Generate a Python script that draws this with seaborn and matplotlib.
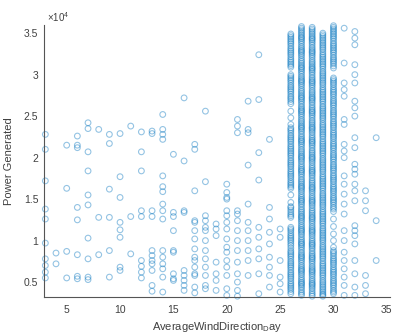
import numpy as np
import pandas as pd
import matplotlib
matplotlib.use("Agg")
import matplotlib.pyplot as plt
import seaborn as sns

# ---- sparse points: y values (Power Generated) per wind-direction value ----
p03 = [22800, 21000, 17200, 13800, 12600, 9700, 7800, 7000, 6200, 5500]
p04 = [8500, 7200]
p05 = [21500, 16300, 8700, 5500]
p06 = [22600, 21500, 21200, 14000, 12500, 8300, 5700, 5400]
p07 = [24200, 23500, 20700, 18400, 15500, 14300, 10300, 7800, 5600, 5300]
p08 = [23400, 12800, 8300]
p09 = [22800, 21700, 16200, 12800, 8800, 5600]
p10 = [22900, 17700, 15200, 12200, 11300, 10400, 6800, 6400]
p11 = [23800, 12900, 8400]
p12 = [23100, 20700, 18400, 13600, 12900, 7600, 6900, 6200, 5500]
p13 = [23200, 22900, 13600, 12900, 8800, 8200, 7600, 7200, 6400, 4600, 3900]
p14 = [25200, 23400, 22800, 22200, 17800, 16500, 15900, 14400, 13600, 12600,
       8800, 8000, 7200, 6600, 5600, 3800]
p15 = [20400, 13400, 12900, 11200, 8800, 8600, 6000, 5400, 5200]
p16 = [27200, 19600, 13600, 13400, 6400, 5800, 5200, 4600, 4000]
p17 = [21600, 21000, 16000, 12400, 12200, 11200, 10200, 9000, 8000, 7600,
       6800, 6000, 5800, 4400, 3700]
p18 = [25600, 17100, 13000, 12400, 11600, 11200, 10000, 8800, 7800, 6800,
       5800, 4600, 4200]
p19 = [12000, 11400, 10600, 7400, 6000, 5200, 4000]
p20 = [16800, 15800, 15200, 15000, 13600, 13000, 12200, 11400, 10200, 9200,
       8600, 7600, 6800, 5800, 4200, 3400]
p21 = [24600, 23800, 23000, 13600, 13200, 12400, 11200, 10000, 8800, 7400,
       6000, 5000, 4000, 3300]
p22 = [26800, 23400, 23000, 19100, 14400, 12200, 11200, 10000, 8800, 7600,
       5800]
p23 = [32400, 27000, 20600, 17300, 11600, 10400, 9000, 7800, 6000, 3600]
p24 = [22200, 14000, 12600, 11000, 9600, 8000, 6800, 5800, 4400]
p25 = [11400, 10400, 7600, 5600, 4800, 3800]
p31 = [35600, 31400, 29000, 28200, 27400, 24600, 24000, 21600, 20800, 20000,
       17800, 16800, 15600, 14400, 13200, 11200, 10000, 8600, 7600, 6600,
       5600, 4600, 3400]
p32 = [35200, 34400, 33600, 31200, 30000, 29000, 26800, 26000, 25000, 22400,
       21200, 19200, 18600, 18000, 16800, 16000, 14800, 11800, 11200, 10600,
       9600, 7600, 6000, 4400, 3400]
p33 = [16000, 14800, 13600, 5800, 4600, 3600]
p34 = [22400, 12400, 7600]

# ---- dense columns (two passes of readings per column) ----
p26 = [34900, 34500, 34100, 33700, 33200, 32800, 32400, 31900, 31500, 31100,
       30900, 30000, 29600, 29200, 28700, 28300, 27900, 27400, 27000, 26500,
       25600, 24800, 24000, 23600, 23200, 22700, 22300, 21900, 21400, 21000,
       20600, 20200, 19700, 19300, 18900, 18400, 18000, 17600, 17100, 16700,
       16300, 15500, 14600, 14100, 13700, 13200, 12800, 11600, 11200, 10700,
       10300, 9900, 9400, 8800, 8400, 8000, 7500, 7100, 6700, 6200, 5800,
       5400, 4900, 4500, 4100, 3600]
p26b = [34700, 34300, 33900, 33450, 33000, 32600, 32150, 31700, 31300, 29800,
        29400, 28950, 28500, 28100, 27650, 27200, 26750, 23400, 22950, 22500,
        22100, 21650, 21200, 20800, 20400, 19950, 19500, 19100, 18650, 18200,
        17800, 17350, 16900, 16500, 13950, 13450, 13000, 11400, 10950, 10500,
        10100, 9650, 9100, 8600, 8200, 7750, 7300, 6900, 6450, 6000, 5600,
        5150, 4700, 4300, 3850]
p27 = [35800, 35400, 35000, 34600, 34300, 33900, 33400, 33000, 32700, 32300,
       31800, 31400, 31000, 30700, 30300, 29800, 29400, 29100, 28700, 28200,
       27800, 27400, 27100, 26700, 26200, 25800, 25500, 25100, 24600, 24200,
       23800, 23500, 23100, 22600, 22200, 21900, 21500, 21000, 20600, 20200,
       19900, 19500, 19000, 18600, 18300, 17900, 17400, 17000, 16600, 16300,
       15900, 15400, 15000, 14700, 14300, 13800, 13400, 13000, 12700, 12300,
       11800, 11400, 11100, 10700, 10200, 9800, 9500, 9100, 8600, 8200, 7900,
       7500, 7000, 6600, 6300, 5900, 5400, 5000, 4700, 4300, 3800, 3400]
p27b = [35600, 35200, 34800, 34450, 34100, 33650, 33200, 32850, 32500, 32050,
        31600, 31200, 30850, 30500, 30050, 29600, 29250, 28900, 28450, 28000,
        27600, 27250, 26900, 26450, 26000, 25650, 25300, 24850, 24400, 24000,
        23650, 23300, 22850, 22400, 22050, 21700, 21250, 20800, 20400, 20050,
        19700, 19250, 18800, 18450, 18100, 17650, 17200, 16800, 16450, 16100,
        15650, 15200, 14850, 14500, 14050, 13600, 13200, 12850, 12500, 12050,
        11600, 11250, 10900, 10450, 10000, 9650, 9300, 8850, 8400, 8050, 7700,
        7250, 6800, 6450, 6100, 5650, 5200, 4850, 4500, 4050, 3600]
p28 = [35700, 35300, 34900, 34500, 34200, 33800, 33300, 32900, 32600, 32200,
       31700, 31300, 30900, 30600, 30200, 29700, 29300, 29000, 28600, 28100,
       27700, 27300, 27000, 26600, 26100, 25700, 25400, 25000, 24500, 24100,
       23700, 23400, 23000, 22500, 22100, 21800, 21400, 20900, 20500, 20100,
       19800, 19400, 18900, 18500, 18200, 17800, 17300, 16900, 16500, 16200,
       15800, 15300, 14900, 14600, 14200, 13700, 13300, 12900, 12600, 12200,
       11700, 11300, 11000, 10600, 10100, 9700, 9400, 9000, 8500, 8100, 7800,
       7400, 6900, 6500, 6200, 5800, 5300, 4900, 4600, 4200, 3700, 3300]
p28b = [35500, 35100, 34700, 34350, 34000, 33550, 33100, 32750, 32400, 31950,
        31500, 31100, 30750, 30400, 29950, 29500, 29150, 28800, 28350, 27900,
        27500, 27150, 26800, 26350, 25900, 25550, 25200, 24750, 24300, 23900,
        23550, 23200, 22750, 22300, 21950, 21600, 21150, 20700, 20300, 19950,
        19600, 19150, 18700, 18350, 18000, 17550, 17100, 16700, 16350, 16000,
        15550, 15100, 14750, 14400, 13950, 13500, 13100, 12750, 12400, 11950,
        11500, 11150, 10800, 10350, 9900, 9550, 9200, 8750, 8300, 7950, 7600,
        7150, 6700, 6350, 6000, 5550, 5100, 4750, 4400, 3950, 3500]
p29 = [35000, 34600, 34200, 33800, 33400, 33000, 32500, 32100, 31700, 31300,
       30900, 30400, 30000, 29600, 29200, 28800, 28300, 27900, 27500, 27100,
       26700, 26200, 25800, 25400, 25000, 24600, 24100, 23700, 23300, 22900,
       22500, 22000, 21600, 21200, 20800, 20400, 19900, 19500, 19100, 18700,
       18300, 17800, 17400, 17000, 16600, 16200, 15700, 15300, 14900, 14500,
       14100, 13600, 13200, 12800, 12400, 12000, 11500, 11100, 10700, 10300,
       9900, 9400, 9000, 8600, 8200, 7800, 7300, 6900, 6500, 6100, 5700, 5200,
       4800, 4400, 4000, 3600, 3300]
p29b = [34800, 34400, 34000, 33600, 33200, 32750, 32300, 31900, 31500, 31100,
        30650, 30200, 29800, 29400, 29000, 28550, 28100, 27700, 27300, 26900,
        26450, 26000, 25600, 25200, 24800, 24350, 23900, 23500, 23100, 22700,
        22250, 21800, 21400, 21000, 20600, 20150, 19700, 19300, 18900, 18500,
        18050, 17600, 17200, 16800, 16400, 15950, 15500, 15100, 14700, 14300,
        13850, 13400, 13000, 12600, 12200, 11750, 11300, 10900, 10500, 10100,
        9650, 9200, 8800, 8400, 8000, 7550, 7100, 6700, 6300, 5900, 5450, 5000,
        4600, 4200, 3800, 3450]
p30 = [35900, 35500, 35100, 34700, 34300, 33800, 33400, 33000, 32600, 32100,
       31700, 31300, 30800, 29600, 29200, 28800, 28300, 27900, 27500, 27000,
       26600, 26200, 25700, 25300, 24900, 24400, 24000, 23600, 23100, 22700,
       22300, 21800, 21400, 21000, 20500, 20100, 19700, 19200, 18800, 18400,
       17900, 17500, 17100, 16600, 16200, 15800, 15300, 14900, 14500, 14000,
       13500, 12600, 11700, 10800, 10000, 9200, 8800, 8400, 7900, 7500, 7100,
       6600, 6200, 5800, 5300, 4900, 4500, 4000, 3600]
p30b = [35700, 35300, 34900, 34500, 34050, 33600, 33200, 32800, 32350, 31900,
        31500, 31050, 29400, 29000, 28550, 28100, 27700, 27250, 26800, 26400,
        25950, 25500, 25100, 24650, 24200, 23800, 23350, 22900, 22500, 22050,
        21600, 21200, 20750, 20300, 19900, 19450, 19000, 18600, 18150, 17700,
        17300, 16850, 16400, 16000, 15550, 15100, 14700, 14250, 13800, 8600,
        8150, 7700, 7300, 6850, 6400, 6000, 5550, 5100, 4700, 4250, 3800]

groups = {3: p03, 4: p04, 5: p05, 6: p06, 7: p07, 8: p08, 9: p09, 10: p10,
          11: p11, 12: p12, 13: p13, 14: p14, 15: p15, 16: p16, 17: p17,
          18: p18, 19: p19, 20: p20, 21: p21, 22: p22, 23: p23, 24: p24,
          25: p25, 26: p26 + p26b, 27: p27 + p27b, 28: p28 + p28b,
          29: p29 + p29b, 30: p30 + p30b, 31: p31, 32: p32, 33: p33, 34: p34}

rows = [(xv, yv) for xv, ys in groups.items() for yv in ys]
df = pd.DataFrame(rows, columns=["AverageWindDirectionDay", "PowerGenerated"])

xticks = [5, 10, 15, 20, 25, 30, 35]
xticklabels = ["5", "10", "15", "20", "25", "30", "35"]
yticks = [5000, 10000, 15000, 20000, 25000, 30000, 35000]
yticklabels = ["0.5", "1", "1.5", "2", "2.5", "3", "3.5"]

sns.set_style("white")
plt.rcParams["font.family"] = ["Liberation Sans", "DejaVu Sans"]
plt.rcParams["mathtext.fontset"] = "custom"
plt.rcParams["mathtext.rm"] = "Liberation Sans"
plt.rcParams["mathtext.it"] = "Liberation Sans"

txt = "#404040"
fig = plt.figure(figsize=(3.96, 3.36), dpi=100)
ax = fig.add_axes([0.111, 0.116, 0.874, 0.81])

sns.scatterplot(data=df, x="AverageWindDirectionDay", y="PowerGenerated",
                ax=ax, marker="o", s=17, facecolor="none",
                edgecolor="#0072BD", linewidth=0.8, alpha=0.42,
                clip_on=False, legend=False)

ax.set_xlim(2.87, 35.3)
ax.set_ylim(3200, 36000)
ax.set_xticks(xticks)
ax.set_xticklabels(xticklabels)
ax.set_yticks(yticks)
ax.set_yticklabels(yticklabels)
ax.tick_params(direction="in", length=3, width=0.6, colors="#555555",
               labelcolor=txt, labelsize=7.5, pad=4)
ax.tick_params(axis="x", pad=6)
for side in ["top", "right"]:
    ax.spines[side].set_visible(False)
for side in ["left", "bottom"]:
    ax.spines[side].set_color("#555555")
    ax.spines[side].set_linewidth(0.8)

ax.set_xlabel(r"AverageWindDirection$_{\mathrm{D}}$ay", fontsize=8,
              color=txt, labelpad=3)
ax.set_ylabel("Power Generated", fontsize=8, color=txt, labelpad=7)
ax.text(0.01, 1.005, r"$\times10^{4}$", transform=ax.transAxes,
        ha="left", va="bottom", fontsize=7, color=txt)

fig.savefig("out.png", dpi=100)
